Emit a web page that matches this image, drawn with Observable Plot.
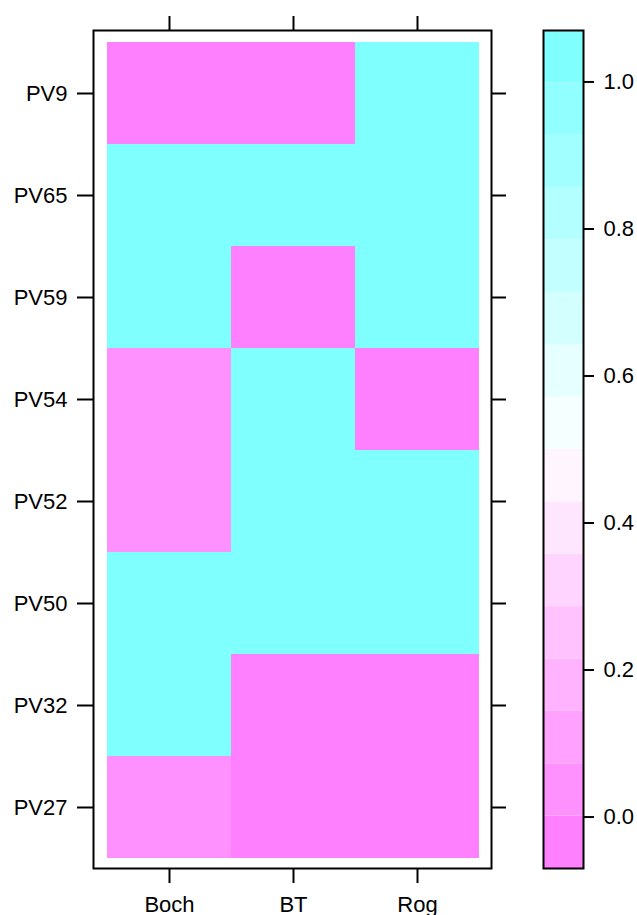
<!DOCTYPE html>
<html>
<head>
<meta charset="utf-8">
<script src="https://cdn.jsdelivr.net/npm/d3@7"></script>
<script src="https://cdn.jsdelivr.net/npm/@observablehq/plot@0.6"></script>
<style>
  html, body { margin: 0; padding: 0; background: white; }
  #wrap { position: relative; width: 637px; height: 915px; overflow: hidden; }
  #heat { position: absolute; left: 0; top: 0; }
  #bar { position: absolute; left: 500px; top: 0; }
</style>
</head>
<body>
<div id="wrap"><div id="heat"></div><div id="bar"></div></div>
<script>
// ---- data ----
const columns = ["Boch", "BT", "Rog"];
const rows = ["PV9", "PV65", "PV59", "PV54", "PV52", "PV50", "PV32", "PV27"];
const boch = [0, 1, 1, 0.05, 0.05, 1, 1, 0.05];
const bt   = [0, 1, 0, 1, 1, 1, 0, 0];
const rog  = [1, 1, 1, 0, 1, 1, 0, 0];

// colour key (lattice-style, 16 regions over [-0.07, 1.07])
const zMin = -0.07, zMax = 1.07;
const breaks = [0.00125, 0.0725, 0.14375, 0.215, 0.28625, 0.3575, 0.42875, 0.5,
                0.57125, 0.6425, 0.71375, 0.785, 0.85625, 0.9275, 0.99875];
const binColors = ["#FF80FF", "#FF91FF", "#FFA1FF", "#FFB3FF", "#FFC2FF", "#FFD4FF", "#FFE6FF", "#FFF5FF",
                   "#F5FFFF", "#E6FFFF", "#D4FFFF", "#C2FFFF", "#B3FFFF", "#A1FFFF", "#91FFFF", "#80FFFF"];
const keyTicks = [0.0, 0.2, 0.4, 0.6, 0.8, 1.0];

// ---- build tables ----
const series = {Boch: boch, BT: bt, Rog: rog};
const cells = [];
for (const c of columns) rows.forEach((r, i) => cells.push({col: c, row: r, value: series[c][i]}));
const edges = [zMin, ...breaks, zMax];
const bins = d3.pairs(edges).map(([lo, hi]) => ({lo, hi, mid: (lo + hi) / 2}));

const font = "'Liberation Sans', Arial, Helvetica, sans-serif";
const fs = 22;
const colorScale = {type: "threshold", domain: breaks, range: binColors};
const noText = () => "";

const heat = Plot.plot({
  width: 520, height: 915,
  marginLeft: 93, marginRight: 29, marginTop: 30, marginBottom: 47,
  style: {fontFamily: font, fontSize: fs + "px", color: "black", background: "transparent", overflow: "visible"},
  x: {domain: columns, range: [106, 479], padding: 0},
  y: {domain: rows, range: [41, 858], padding: 0},
  color: colorScale,
  marks: [
    Plot.cell(cells, {x: "col", y: "row", fill: "value", inset: 0}),
    Plot.frame({stroke: "black", strokeWidth: 2}),
    Plot.axisY({anchor: "left", tickSize: 16, tickPadding: 10, strokeWidth: 2, label: null, fontSize: fs}),
    Plot.axisY({anchor: "right", tickSize: 14, strokeWidth: 2, label: null, tickFormat: noText}),
    Plot.axisX({anchor: "bottom", tickSize: 15, tickPadding: 13, strokeWidth: 2, label: null, fontSize: fs}),
    Plot.axisX({anchor: "top", tickSize: 15, strokeWidth: 2, label: null, tickFormat: noText})
  ]
});
document.getElementById("heat").appendChild(heat);

const bar = Plot.plot({
  width: 137, height: 915,
  marginLeft: 43, marginRight: 54, marginTop: 30, marginBottom: 47,
  style: {fontFamily: font, fontSize: fs + "px", color: "black", background: "transparent", overflow: "visible"},
  y: {domain: [zMin, zMax]},
  color: colorScale,
  marks: [
    Plot.rect(bins, {y1: "lo", y2: "hi", fill: "mid"}),
    Plot.frame({stroke: "black", strokeWidth: 2}),
    Plot.axisY({anchor: "right", ticks: keyTicks, tickFormat: ".1f", tickSize: 10, tickPadding: 10,
                strokeWidth: 2, label: null, fontSize: fs})
  ]
});
document.getElementById("bar").appendChild(bar);
</script>
</body>
</html>
